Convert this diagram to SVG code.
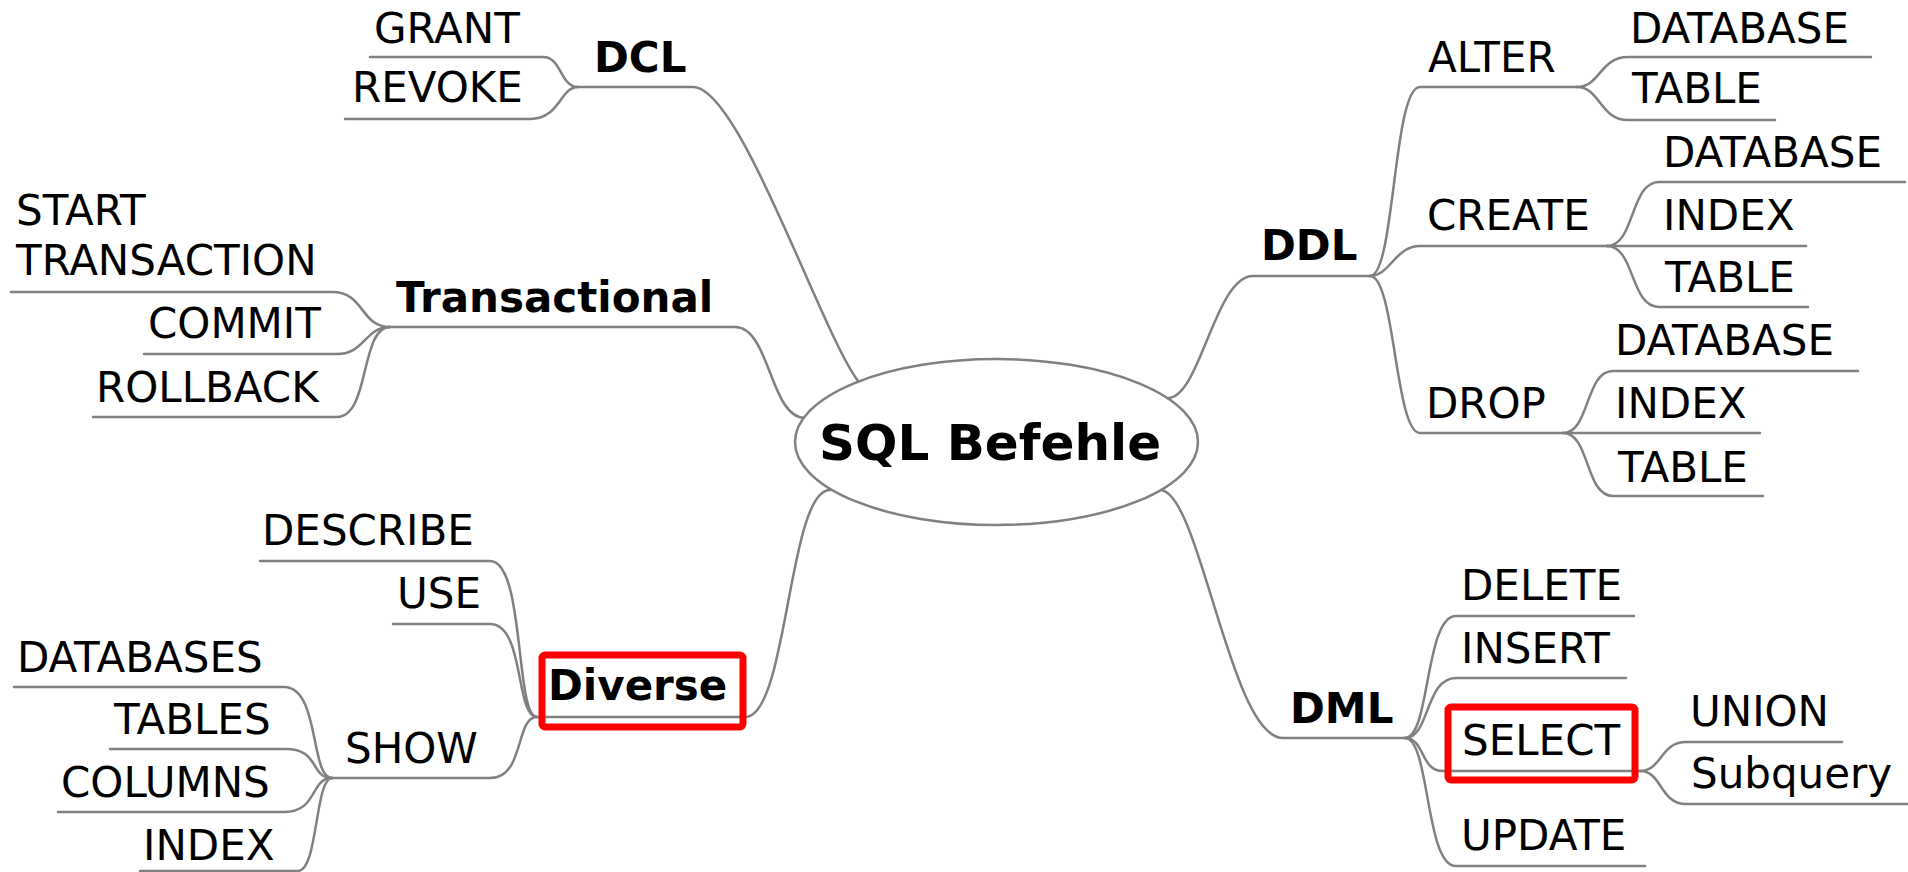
<svg xmlns="http://www.w3.org/2000/svg" width="1908" height="872" viewBox="0 0 1908 872">
<style>
.c{fill:none;stroke:#808080;stroke-width:2.5;stroke-linecap:round}
.t{font-family:"DejaVu Sans",sans-serif;font-size:42px;fill:#000}
.b{font-family:"DejaVu Sans",sans-serif;font-size:42px;font-weight:bold;fill:#000}
.hl{fill:none;stroke:#ff0000;stroke-width:7}
</style>
<rect width="1908" height="872" fill="#fff"/>
<g id="connectors">
<path class="c" d="M578 87 H693 C740 87 820 330 858 381"/>
<path class="c" d="M390 327 H735 C770 327 770 418 805 418"/>
<path class="c" d="M537 717 H745 C788 717 788 490 830 490"/>
<path class="c" d="M1168 398 C1200 398 1215 276 1253 276 H1370"/>
<path class="c" d="M1160 490 C1200 490 1230 738 1283 738 H1405"/>
<path class="c" d="M370 57 H543 C562 57 560 87 578 87"/>
<path class="c" d="M345 119 H530 C560 119 560 87 578 87"/>
<path class="c" d="M11 292 H332 C365 292 360 327 390 327"/>
<path class="c" d="M144 354 H337 C365 354 365 327 390 327"/>
<path class="c" d="M93 417 H337 C370 417 360 327 390 327"/>
<path class="c" d="M260 561 H490 C525 561 515 717 537 717"/>
<path class="c" d="M393 624 H490 C525 624 515 717 537 717"/>
<path class="c" d="M332 778 H490 C525 778 515 717 537 717"/>
<path class="c" d="M14 687 H284 C320 687 310 778 332 778"/>
<path class="c" d="M110 749 H286 C320 749 310 778 332 778"/>
<path class="c" d="M58 812 H284 C318 812 310 778 332 778"/>
<path class="c" d="M140 871 H298 C318 871 315 778 332 778"/>
<path class="c" d="M1370 276 C1395 276 1393 87 1420 87 H1577"/>
<path class="c" d="M1370 276 C1390 276 1395 246 1420 246 H1607"/>
<path class="c" d="M1370 276 C1395 276 1395 433 1420 433 H1563"/>
<path class="c" d="M1577 87 C1600 87 1600 57 1628 57 H1871"/>
<path class="c" d="M1577 87 C1600 87 1600 120 1628 120 H1775"/>
<path class="c" d="M1607 246 C1635 246 1630 182 1659 182 H1905"/>
<path class="c" d="M1607 246 H1806"/>
<path class="c" d="M1607 246 C1635 246 1630 307 1659 307 H1808"/>
<path class="c" d="M1563 433 C1590 433 1585 371 1613 371 H1858"/>
<path class="c" d="M1563 433 H1760"/>
<path class="c" d="M1563 433 C1590 433 1585 496 1613 496 H1763"/>
<path class="c" d="M1405 738 C1430 738 1425 616 1456 616 H1634"/>
<path class="c" d="M1405 738 C1430 738 1425 678 1456 678 H1626"/>
<path class="c" d="M1405 738 C1425 738 1420 771 1443 771 H1640"/>
<path class="c" d="M1405 738 C1430 738 1425 866 1456 866 H1645"/>
<path class="c" d="M1640 771 C1662 771 1660 742 1686 742 H1842"/>
<path class="c" d="M1640 771 C1662 771 1660 804 1686 804 H1908"/>
</g>
<g id="root">
<ellipse cx="996.5" cy="442" rx="201.5" ry="83" fill="#fff" stroke="#808080" stroke-width="2.5"/>
<text class="b" style="font-size:50px" x="990" y="460" text-anchor="middle">SQL Befehle</text>
</g>
<g id="dcl"><text class="b" x="594" y="72">DCL</text></g>
<g id="grant"><text class="t" x="374" y="43">GRANT</text></g>
<g id="revoke"><text class="t" x="352" y="102">REVOKE</text></g>
<g id="transactional"><text class="b" x="396" y="312">Transactional</text></g>
<g id="start"><text class="t"><tspan x="16" y="225">START</tspan><tspan x="16" y="275">TRANSACTION</tspan></text></g>
<g id="commit"><text class="t" x="148" y="338">COMMIT</text></g>
<g id="rollback"><text class="t" x="96" y="402">ROLLBACK</text></g>
<g id="diverse"><rect class="hl" x="542" y="655" width="201" height="72" rx="3"/><text class="b" x="548" y="700">Diverse</text></g>
<g id="describe"><text class="t" x="262" y="545">DESCRIBE</text></g>
<g id="use"><text class="t" x="397" y="608">USE</text></g>
<g id="show"><text class="t" x="345" y="763">SHOW</text></g>
<g id="databases"><text class="t" x="17" y="672">DATABASES</text></g>
<g id="tables"><text class="t" x="114" y="734">TABLES</text></g>
<g id="columns"><text class="t" x="61" y="797">COLUMNS</text></g>
<g id="show-index"><text class="t" x="143" y="860">INDEX</text></g>
<g id="ddl"><text class="b" x="1261" y="260">DDL</text></g>
<g id="alter"><text class="t" x="1428" y="72">ALTER</text></g>
<g id="alter-database"><text class="t" x="1630" y="43">DATABASE</text></g>
<g id="alter-table"><text class="t" x="1632" y="103">TABLE</text></g>
<g id="create"><text class="t" x="1427" y="230">CREATE</text></g>
<g id="create-database"><text class="t" x="1663" y="167">DATABASE</text></g>
<g id="create-index"><text class="t" x="1663" y="230">INDEX</text></g>
<g id="create-table"><text class="t" x="1665" y="292">TABLE</text></g>
<g id="drop"><text class="t" x="1426" y="418">DROP</text></g>
<g id="drop-database"><text class="t" x="1615" y="355">DATABASE</text></g>
<g id="drop-index"><text class="t" x="1615" y="418">INDEX</text></g>
<g id="drop-table"><text class="t" x="1618" y="482">TABLE</text></g>
<g id="dml"><text class="b" x="1290" y="723">DML</text></g>
<g id="delete"><text class="t" x="1461" y="600">DELETE</text></g>
<g id="insert"><text class="t" x="1461" y="663">INSERT</text></g>
<g id="select"><rect class="hl" x="1448" y="707" width="187" height="73" rx="3"/><text class="t" x="1462" y="755">SELECT</text></g>
<g id="union"><text class="t" x="1690" y="726">UNION</text></g>
<g id="subquery"><text class="t" x="1691" y="788">Subquery</text></g>
<g id="update"><text class="t" x="1461" y="850">UPDATE</text></g>
</svg>
